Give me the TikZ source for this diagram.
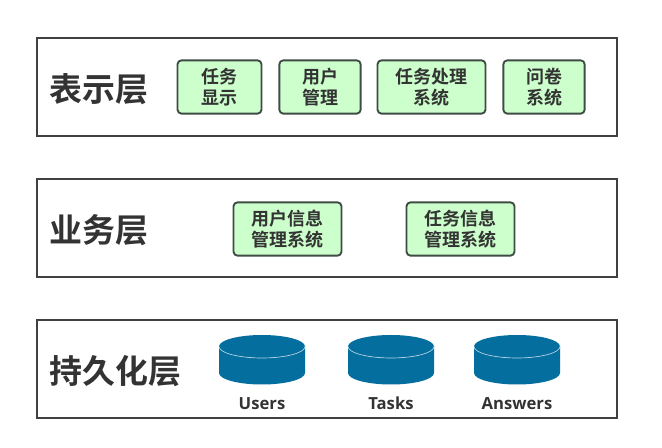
\documentclass[tikz,border=0pt]{standalone}
\usepackage{fontspec}
\setmainfont{Open Sans}
\newfontfamily\cjk{Noto Sans CJK SC}[BoldFont={Noto Sans CJK SC Bold}]
\definecolor{LineGray}{RGB}{64, 64, 64}
\definecolor{TextGray}{RGB}{51, 51, 51}
\definecolor{ModGreen}{RGB}{204, 255, 204}
\definecolor{ModEdge}{RGB}{62, 76, 68}
\definecolor{DbBlue}{RGB}{4, 110, 158}
\usetikzlibrary{positioning}

\begin{document}
\begin{tikzpicture}[x=0.75pt, y=-0.75pt,
        layer/.style={rectangle, draw=LineGray, line width=1.5pt, fill=white, minimum width=435pt, minimum height=73.5pt, inner sep=0pt},
        title/.style={font=\cjk\bfseries\fontsize{24.7}{28}\selectfont, text=TextGray, anchor=west, inner sep=0pt},
        module/.style={rectangle, draw=ModEdge, line width=1.4pt, fill=ModGreen, rounded corners=3pt, minimum height=40pt, inner sep=0pt, align=center, text=TextGray, font=\cjk\bfseries\fontsize{13.5}{16}\selectfont, execute at begin node={\rule{0pt}{14pt}}},
        dblabel/.style={font=\bfseries\fontsize{12.5}{14}\selectfont, text=TextGray, inner sep=0pt, text height=9.5pt, text depth=0pt},
        dbdisk/.pic={
            \fill[DbBlue] (-43,-13.5) arc[start angle=180, end angle=360, x radius=43, y radius=-11.5] -- (43,13) arc[start angle=0, end angle=-180, x radius=43, y radius=-11.5] -- cycle;
            \fill[DbBlue] (0,-13.5) ellipse[x radius=43, y radius=11.5];
            \draw[white!70!DbBlue, line width=0.5pt] (-43,-13.5) arc[start angle=180, end angle=0, x radius=43, y radius=11.5];
            \coordinate (-base) at (0,25);
        }
    ]
        \useasboundingbox (0,0) rectangle (662,448);
        % three layers
        \node[layer] (view) at (327,87) {};
        \node[layer] (service) at (327,228.5) {};
        \node[layer] (store) at (327,369) {};
        \node[title] (viewT) at (49,89) {表示层};
        \node[title] (serviceT) at (49,230) {业务层};
        \node[title] (storeT) at (49,371) {持久化层};
        % modules
        \node[module, minimum width=63pt] (m1) at (219.5,87) {任务\\显示};
        \node[module, minimum width=61pt] (m2) at (320,87) {用户\\管理};
        \node[module, minimum width=81pt] (m3) at (431.5,87) {任务处理\\系统};
        \node[module, minimum width=61pt] (m4) at (544,87) {问卷\\系统};
        \node[module, minimum width=81pt] (s1) at (287.5,229) {用户信息\\管理系统};
        \node[module, minimum width=81pt] (s2) at (460.5,229) {任务信息\\管理系统};
        % databases
        \pic (users) at (262,360) {dbdisk};
        \pic (tasks) at (391,360) {dbdisk};
        \pic (answers) at (517,360) {dbdisk};
        \node[dblabel, below=9pt of users-base] (usersL) {Users};
        \node[dblabel, below=9pt of tasks-base] (tasksL) {Tasks};
        \node[dblabel, below=9pt of answers-base] (answersL) {Answers};
    \end{tikzpicture}
\end{document}
